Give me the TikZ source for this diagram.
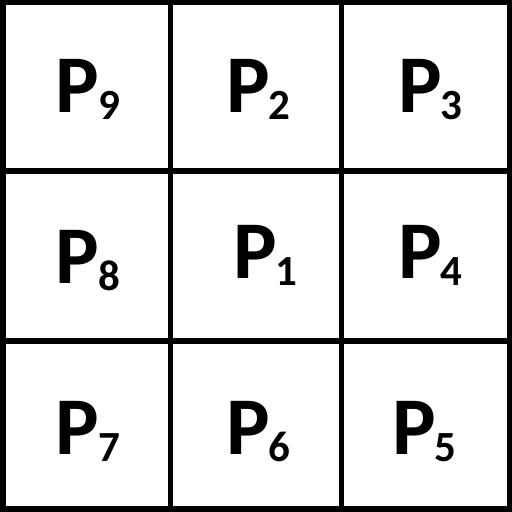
\documentclass[tikz,border=0pt]{standalone}
\usepackage{fontspec}
\setmainfont{Carlito}
\newcommand{\plabel}[1]{{\fontsize{82}{82}\selectfont\bfseries P}\kern-1pt\raisebox{-7pt}{\fontsize{43}{43}\selectfont\bfseries #1}}
\tikzset{
  gridline/.style={line width=5.5pt, draw=black},
  plab/.style={anchor=base west, inner sep=0pt, outer sep=0pt}
}
\begin{document}
\begin{tikzpicture}[x=1pt,y=1pt]
\fill[white] (0,0) rectangle (512,512);
\useasboundingbox (0,0) rectangle (512,512);
% grid
\draw[gridline] (2.75,2.75) rectangle (509.25,509.25);
\draw[gridline] (170.5,0) -- (170.5,512);
\draw[gridline] (341.5,0) -- (341.5,512);
\draw[gridline] (0,341) -- (512,341);
\draw[gridline] (0,171) -- (512,171);
% labels (base west, y = 512 - baseline)
\node[plab] (p9) at (56,399) {\plabel{9}};
\node[plab] (p2) at (226,399) {\plabel{2}};
\node[plab] (p3) at (398,399) {\plabel{3}};
\node[plab] (p8) at (56,228) {\plabel{8}};
\node[plab] (p1) at (233,233) {\plabel{1}};
\node[plab] (p4) at (398,233) {\plabel{4}};
\node[plab] (p7) at (56,57) {\plabel{7}};
\node[plab] (p6) at (226,57) {\plabel{6}};
\node[plab] (p5) at (392,57) {\plabel{5}};
\end{tikzpicture}
\end{document}
